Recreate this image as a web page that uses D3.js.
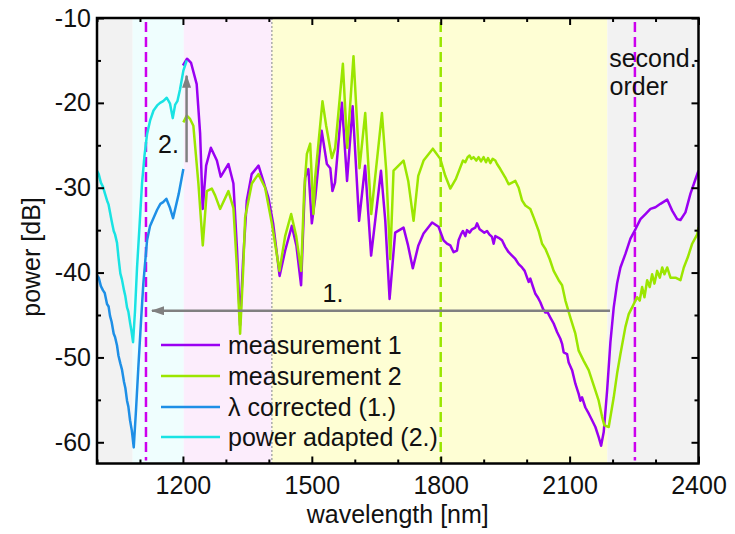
<!DOCTYPE html>
<html><head><meta charset="utf-8">
<script src="https://cdn.jsdelivr.net/npm/d3@7"></script>
<style>body{margin:0;background:#fff}svg{display:block}</style>
</head><body><svg id="c" width="735" height="534"></svg>
<script>
// ---------- data (wavelength nm, power dB) ----------
const meas1 = [[1200,-15.6],[1209.6,-14.8],[1219,-15.3],[1232,-17.8],[1240,-23.6],[1246,-32.5],[1254,-27.4],[1265,-25.3],[1279,-26.8],[1288,-28.7],[1306,-27.2],[1317.5,-29.5],[1326,-37.4],[1333,-46.2],[1340,-38.6],[1348.7,-31.5],[1360,-28.4],[1376,-27.4],[1387,-29.2],[1399,-31.2],[1410,-34.2],[1425,-40.4],[1438,-37.4],[1453.5,-34.5],[1464,-36.8],[1475,-41.5],[1484.5,-28.8],[1492,-27.8],[1500,-34.2],[1508,-31.2],[1523,-23.3],[1535,-27.2],[1543,-27.7],[1548,-30.4],[1554,-29.4],[1570,-20.0],[1582,-29.2],[1595,-20.4],[1610,-33.9],[1624,-27.4],[1638,-38.0],[1661,-28.0],[1671,-33.9],[1681,-43.1],[1694,-35.3],[1713.5,-34.7],[1724,-36.8],[1735,-39.5],[1748,-36.8],[1760,-35.4],[1780,-34.1],[1795,-34.6],[1806.7,-36.2],[1814.6,-36.6],[1822.3,-36.8],[1830,-37.6],[1837.9,-37.4],[1841.6,-36.2],[1847.2,-35.5],[1851.8,-35.1],[1857.2,-35.7],[1861.2,-35.0],[1867.2,-35.3],[1872.8,-34.9],[1880.5,-34.7],[1884.5,-34.2],[1890.5,-34.9],[1896.1,-35.1],[1901.5,-35.3],[1907.8,-35.1],[1913.1,-35.5],[1919.4,-35.8],[1923.2,-36.6],[1927.1,-35.7],[1934.8,-35.9],[1942.7,-36.2],[1950.4,-37.0],[1958.1,-37.6],[1966,-38.0],[1973.7,-38.4],[1981.4,-39.0],[1989.3,-39.4],[1995.4,-39.8],[2001,-40.6],[2004.7,-41.1],[2008.6,-40.7],[2014.9,-41.7],[2020.3,-42.5],[2025.7,-42.9],[2031.9,-43.5],[2038.2,-44.3],[2043.6,-44.7],[2048.9,-44.7],[2055.2,-45.3],[2062.9,-46.0],[2070.8,-47.0],[2078.5,-47.8],[2082.5,-48.4],[2086.2,-49.4],[2094.1,-49.6],[2097.8,-50.6],[2105.8,-51.5],[2113.4,-53.1],[2121.1,-54.3],[2125.1,-55.1],[2129,-54.7],[2136.7,-55.9],[2144.4,-56.6],[2152.3,-57.4],[2160,-58.2],[2167.7,-59.4],[2173.3,-60.4],[2179.4,-58.8],[2187.3,-53.9],[2195,-48.2],[2202.7,-44.1],[2210.5,-41.3],[2218.3,-39.4],[2229.9,-37.8],[2241.6,-36.0],[2253.2,-34.9],[2264.9,-33.7],[2276.5,-33.1],[2288.2,-32.5],[2299.8,-32.3],[2311.4,-31.9],[2327.1,-31.4],[2338.7,-32.7],[2350.4,-33.7],[2358,-33.8],[2369.6,-32.9],[2381.3,-30.7],[2392.9,-29.0],[2400,-28.0]];

const meas2 = [[1201,-22.3],[1209,-21.5],[1216.6,-21.9],[1224.3,-22.7],[1236,-29.5],[1246.2,-36.8],[1255.5,-30.4],[1267.2,-30.1],[1274.9,-30.9],[1286.5,-32.5],[1305.9,-30.4],[1317.5,-32.4],[1326.1,-39.8],[1333.1,-47.2],[1340.1,-39.8],[1344.8,-33.5],[1360.4,-29.5],[1375.7,-28.4],[1391.3,-30.0],[1406.9,-34.2],[1424.7,-39.8],[1437.9,-35.7],[1451.9,-33.1],[1463.6,-35.7],[1475.2,-39.8],[1482.2,-30.4],[1488.5,-26.0],[1496.2,-24.8],[1503.8,-33.1],[1507.8,-28.8],[1524.8,-19.8],[1533.4,-22.7],[1546.7,-26.5],[1554.4,-25.3],[1572.3,-15.4],[1582.4,-25.3],[1597,-14.5],[1611,-27.7],[1624.3,-21.2],[1638.3,-33.1],[1663.2,-21.2],[1673.2,-28.0],[1682.5,-38.4],[1690.2,-28.0],[1713.5,-26.8],[1724.4,-29.2],[1736.8,-33.9],[1747.7,-28.6],[1760.1,-26.8],[1781.7,-25.4],[1799,-26.6],[1810.6,-28.6],[1822.3,-30.1],[1835,-29.0],[1845.6,-27.6],[1851.8,-26.8],[1857.2,-27.0],[1862.6,-26.4],[1867.2,-26.2],[1871.2,-26.6],[1876.6,-26.4],[1882.8,-26.8],[1888.2,-26.4],[1893.8,-26.9],[1899.8,-26.4],[1905.4,-27.0],[1910.1,-26.5],[1915.5,-27.1],[1920.8,-26.6],[1927.1,-26.8],[1931.1,-27.2],[1938.7,-27.8],[1950.4,-28.8],[1958.1,-29.6],[1966,-29.4],[1973.7,-29.2],[1981.4,-30.0],[1989.3,-31.5],[1997,-32.1],[2008.6,-32.5],[2016.3,-33.5],[2028,-35.1],[2035.9,-36.6],[2043.6,-37.2],[2053.6,-38.4],[2062.9,-39.8],[2074.6,-40.9],[2082.5,-41.5],[2090.2,-43.3],[2101.8,-45.3],[2113.4,-47.2],[2121.1,-49.2],[2132.8,-50.4],[2144.4,-51.5],[2156.1,-53.3],[2167.7,-55.1],[2175.6,-57.0],[2181,-58.0],[2191,-58.2],[2202.7,-54.7],[2210.5,-51.9],[2218.3,-49.6],[2229.9,-46.4],[2237.6,-44.9],[2245.5,-44.1],[2249.3,-43.7],[2257.2,-42.9],[2263.2,-43.3],[2268.8,-41.7],[2274.2,-42.9],[2280.5,-40.9],[2286.5,-41.7],[2292.1,-40.2],[2297.5,-41.3],[2303.8,-39.8],[2309.9,-40.6],[2315.5,-39.4],[2320.8,-40.2],[2327.1,-39.4],[2334.8,-40.6],[2346.4,-40.6],[2358,-40.9],[2365.8,-39.4],[2375.1,-38.2],[2385.3,-36.6],[2397,-35.5],[2400,-34.7]];

const lambdaCorrected = [[1000,-40.3],[1004,-40.6],[1009,-41.6],[1014,-42.1],[1018,-42.4],[1023.3,-43.7],[1027,-44.0],[1030.3,-45.1],[1034,-45.8],[1038.9,-47.2],[1042,-47.6],[1046.6,-48.6],[1050,-49.8],[1054.3,-50.7],[1058,-51.4],[1062.9,-52.9],[1066,-53.6],[1069.9,-55.1],[1073,-55.8],[1076.9,-57.4],[1081,-58.6],[1085.5,-60.6],[1090.8,-56.2],[1096.2,-51.2],[1102.5,-45.7],[1107.8,-41.3],[1116.5,-36.2],[1123.5,-34.5],[1132.1,-33.5],[1140,-32.6],[1147.5,-31.9],[1154,-31.7],[1161.4,-31.3],[1170,-32.4],[1177,-33.6],[1190.3,-30.7],[1201,-27.8]];

const powerAdapted = [[1000,-28.0],[1004,-28.4],[1009,-29.4],[1014,-29.9],[1018,-30.6],[1023.3,-31.5],[1027,-32.0],[1030.3,-32.9],[1034,-33.9],[1038.9,-35.1],[1042,-35.5],[1046.6,-36.5],[1050,-38.2],[1054.3,-40.1],[1058,-40.8],[1062.9,-42.1],[1066,-42.8],[1069.9,-44.1],[1073,-44.6],[1076.9,-45.9],[1080,-46.8],[1083.9,-48.2],[1088.5,-44.5],[1093.2,-39.4],[1099,-34.5],[1104.8,-29.5],[1110.6,-26.2],[1116.5,-23.7],[1123.5,-22.1],[1131.6,-20.9],[1140,-20.3],[1146.8,-20.0],[1154,-19.8],[1162.4,-19.4],[1170,-20.1],[1176.3,-21.8],[1182,-20.2],[1187.1,-19.8],[1193.3,-18.4],[1201,-16.2],[1209,-15.0]];

const seriesNames = ["measurement 1","measurement 2","\u03bb corrected (1.)","power adapted (2.)"];
const xMajorTicks = [1200,1500,1800,2100,2400];
const xMinorTicks = [1000,1100,1300,1400,1600,1700,1900,2000,2200,2300];
const yMajorTicks = [-60,-50,-40,-30,-20,-10];
const yMinorTicks = [-55,-45,-35,-25,-15];
const bandEdges = [1000,1083,1202,1407,2188,2400];
const dashedMarkers = [1114,1800,2252];
const dottedMarker = 1407;
const arrow1 = [[2194,-44.5],[1128,-44.5]];
const arrow2 = [[1208.5,-27.0],[1208.5,-16.8]];

// ---------- styles ----------
const FONT = 'Arial, "Liberation Sans", sans-serif';
const colors = ["#9a00f2","#9be600","#1e8fe6","#19e3e3"];
const bandColors = ["#f2f2f2","#effefe","#fcedfc","#fefed4","#f2f2f2"];
const markerColors = ["#cc00ee","#99e600","#cc00ee"];

const m = {l:97, r:698.5, t:18, b:463.5};
const x = d3.scaleLinear().domain([1000,2400]).range([m.l,m.r]);
const y = d3.scaleLinear().domain([-62.5,-10]).range([m.b,m.t]);
const svg = d3.select('#c');
const defs = svg.append('defs');
defs.append('clipPath').attr('id','clip').append('rect')
  .attr('x',m.l).attr('y',m.t).attr('width',m.r-m.l).attr('height',m.b-m.t);
defs.append('marker').attr('id','ah').attr('markerUnits','userSpaceOnUse')
  .attr('markerWidth',14).attr('markerHeight',10).attr('refX',12).attr('refY',4.5)
  .attr('orient','auto').append('path').attr('d','M0,0 L13,4.5 L0,9 Z').attr('fill','#808080');

const plot = svg.append('g').attr('clip-path','url(#clip)');
// bands
plot.selectAll('rect.band').data(d3.range(bandEdges.length-1)).join('rect')
  .attr('x',i=>x(bandEdges[i])).attr('width',i=>x(bandEdges[i+1])-x(bandEdges[i]))
  .attr('y',m.t).attr('height',m.b-m.t).attr('fill',i=>bandColors[i]);
// dotted separator
plot.append('line').attr('x1',x(dottedMarker)).attr('x2',x(dottedMarker)).attr('y1',m.t).attr('y2',m.b)
  .attr('stroke','#aaaaaa').attr('stroke-width',1.5).attr('stroke-dasharray','2,2');
// dashed markers
plot.selectAll('line.dm').data(dashedMarkers).join('line')
  .attr('x1',d=>x(d)).attr('x2',d=>x(d)).attr('y1',m.t+4).attr('y2',m.b-3)
  .attr('stroke',(d,i)=>markerColors[i]).attr('stroke-width',2.5).attr('stroke-dasharray','10,5');

// lines
const line = d3.line().x(d=>x(d[0])).y(d=>y(d[1]));
[meas1,meas2,lambdaCorrected,powerAdapted].forEach((s,i)=>{
  plot.append('path').datum(s).attr('d',line).attr('fill','none')
    .attr('stroke',colors[i]).attr('stroke-width',2.5).attr('stroke-linejoin','round');
});

// arrows
[arrow1,arrow2].forEach(a=>{
  svg.append('line').attr('x1',x(a[0][0])).attr('y1',y(a[0][1])).attr('x2',x(a[1][0])).attr('y2',y(a[1][1]))
    .attr('stroke','#808080').attr('stroke-width',2.5).attr('marker-end','url(#ah)');
});

// annotation text
const ann = [["1.",1525,-43.47],["2.",1142,-25.9],["second.",2192,-15.77],["order",2193,-19.07]];
svg.selectAll('text.ann').data(ann).join('text').attr('class','ann')
  .attr('x',d=>x(d[1])).attr('y',d=>y(d[2])).text(d=>d[0])
  .attr('font-family',FONT).attr('font-size',25).attr('fill','#111');

// legend
const lg = svg.append('g');
const rows = [345,376,407,437];
seriesNames.forEach((n,i)=>{
  lg.append('line').attr('x1',161).attr('x2',220).attr('y1',rows[i]).attr('y2',rows[i])
    .attr('stroke',colors[i]).attr('stroke-width',2.5);
  lg.append('text').attr('x',228).attr('y',rows[i]+9).text(n)
    .attr('font-family',FONT).attr('font-size',25).attr('fill','#111');
});

// axes
function styleAx(g){
  g.select('.domain').remove();
  g.selectAll('line').attr('stroke','#000').attr('stroke-width',2);
  g.selectAll('text').attr('font-family',FONT).attr('font-size',25).attr('fill','#111');
}
svg.append('g').attr('transform',`translate(0,${m.b})`)
  .call(d3.axisBottom(x).tickValues(xMajorTicks).tickSize(-7).tickPadding(13).tickFormat(d=>String(d))).call(styleAx);
svg.append('g').attr('transform',`translate(0,${m.b})`)
  .call(d3.axisBottom(x).tickValues(xMinorTicks).tickSize(-4).tickFormat('')).call(styleAx);
svg.append('g').attr('transform',`translate(0,${m.t})`)
  .call(d3.axisTop(x).tickValues(xMajorTicks).tickSize(-7).tickFormat('')).call(styleAx);
svg.append('g').attr('transform',`translate(0,${m.t})`)
  .call(d3.axisTop(x).tickValues(xMinorTicks).tickSize(-4).tickFormat('')).call(styleAx);
svg.append('g').attr('transform',`translate(${m.l},0)`)
  .call(d3.axisLeft(y).tickValues(yMajorTicks).tickSize(-7).tickPadding(6).tickFormat(d=>String(d))).call(styleAx);
svg.append('g').attr('transform',`translate(${m.l},0)`)
  .call(d3.axisLeft(y).tickValues(yMinorTicks).tickSize(-4).tickFormat('')).call(styleAx);
svg.append('g').attr('transform',`translate(${m.r},0)`)
  .call(d3.axisRight(y).tickValues(yMajorTicks).tickSize(-7).tickFormat('')).call(styleAx);
svg.append('g').attr('transform',`translate(${m.r},0)`)
  .call(d3.axisRight(y).tickValues(yMinorTicks).tickSize(-4).tickFormat('')).call(styleAx);

// frame
svg.append('rect').attr('x',m.l).attr('y',m.t).attr('width',m.r-m.l).attr('height',m.b-m.t)
  .attr('fill','none').attr('stroke','#000').attr('stroke-width',2.5);

// axis titles
svg.append('text').attr('x',(m.l+m.r)/2).attr('y',523).attr('text-anchor','middle')
  .attr('font-family',FONT).attr('font-size',25).attr('fill','#111').text('wavelength [nm]');
svg.append('text').attr('transform','translate(40,257) rotate(-90)').attr('text-anchor','middle')
  .attr('font-family',FONT).attr('font-size',25).attr('fill','#111').text('power [dB]');
</script></body></html>
